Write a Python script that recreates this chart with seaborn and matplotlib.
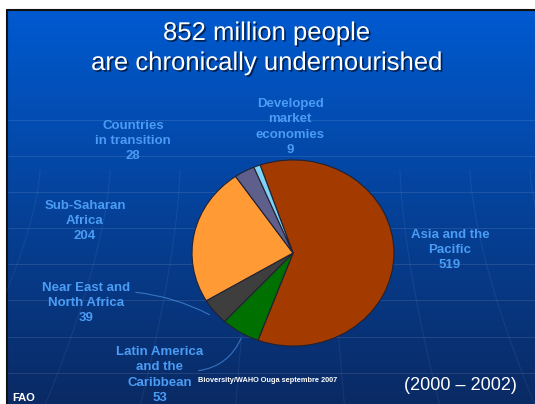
import numpy as np
import seaborn as sns
import matplotlib.pyplot as plt
import matplotlib.patheffects as pe

# data (million people, 2000-2002)
regions = [
    "Asia and the\nPacific",
    "Latin America\nand the\nCaribbean",
    "Near East and\nNorth Africa",
    "Sub-Saharan\nAfrica",
    "Countries\nin transition",
    "Developed\nmarket\neconomies",
]
people = [519, 53, 39, 204, 28, 9]
title_lines = ["852 million people", "are chronically undernourished"]
period = "(2000 \u2013 2002)"

slice_colors = ["#A33A00", "#007000", "#3E3E3E", "#FF9A35", "#5F5F8C", "#7FD3F5"]
# label centres in pixel coordinates
label_pos = [(450, 250), (160, 375), (86, 303), (85, 221), (133, 141), (290, 127)]

W, H = 535, 404
sns.set_theme(style="white")
plt.rcParams["font.family"] = ["Liberation Sans", "DejaVu Sans"]

fig = plt.figure(figsize=(W / 100, H / 100), dpi=100, facecolor="white")

# slide background
bg = fig.add_axes([0, 0, 1, 1])
bg.set_xlim(0, W)
bg.set_ylim(H, 0)
bg.axis("off")
top = np.array([0, 90, 208]) / 255
bottom = np.array([10, 42, 100]) / 255
t = np.linspace(0, 1, 256)[:, None]
grad = (top * (1 - t) + bottom * t)[:, None, :]
bg.imshow(grad, extent=(7, W, H, 10), aspect="auto", zorder=0)
bg.plot([7, W], [10, 10], color="#111111", lw=1.5, zorder=1)
bg.plot([7, 7], [10, H], color="#111111", lw=1.5, zorder=1)
for gy in [120, 156, 192, 228, 264, 300, 337, 373]:
    bg.plot([8, W], [gy, gy], color="white", alpha=0.10, lw=0.8, zorder=1)
yy = np.linspace(170, H, 60)
for x0 in [40, 110, 180, 250, 330, 400, 470, 530]:
    xx = x0 + (x0 - 290) * 0.35 * ((yy - 170) / 230) ** 1.5
    bg.plot(xx, yy, color="white", alpha=0.06, lw=0.8, zorder=1)

# pie
cx, cy, rx, ry = 293, 253, 102, 94
ax = fig.add_axes([(cx - rx) / W, (H - cy - ry) / H, 2 * rx / W, 2 * ry / H])
ax.pie(people, colors=slice_colors, startangle=109, counterclock=False,
       wedgeprops=dict(edgecolor="#222233", linewidth=0.8))
ax.set_aspect("auto")
ax.set_xlim(-1.01, 1.01)
ax.set_ylim(-1.01, 1.01)
ax.axis("off")

# leader lines
bg.annotate("", xy=(212, 316), xytext=(133, 292),
            arrowprops=dict(arrowstyle="-", color="#4A8FE0", lw=0.8, alpha=0.7,
                            connectionstyle="arc3,rad=-0.1"))
bg.annotate("", xy=(242, 336), xytext=(196, 371),
            arrowprops=dict(arrowstyle="-", color="#4A8FE0", lw=0.8, alpha=0.7,
                            connectionstyle="arc3,rad=0.3"))

for name, val, (lx, ly) in zip(regions, people, label_pos):
    bg.text(lx, ly, f"{name}\n{val}", ha="center", va="center", color="#4A9CF5",
            fontsize=9.5, fontweight="bold", linespacing=1.36, zorder=3)

shadow = [pe.SimplePatchShadow(offset=(1.2, -1.2), shadow_rgbFace="#001436", alpha=0.8),
          pe.Normal()]
bg.text(267, 40, title_lines[0], ha="center", va="baseline", color="white",
        fontsize=18.5, path_effects=shadow, zorder=3)
bg.text(267, 70, title_lines[1], ha="center", va="baseline", color="white",
        fontsize=18.5, path_effects=shadow, zorder=3)

bg.text(460, 386, period, ha="center", va="center", color="white", fontsize=13, zorder=3)
bg.text(198, 381, "Bioversity/WAHO Ouga septembre 2007", ha="left", va="center",
        color="white", fontsize=5.3, fontweight="bold", zorder=3)
bg.text(12, 401, "FAO", ha="left", va="baseline", color="white", fontsize=8,
        fontweight="bold", zorder=3)

fig.savefig("out.png", dpi=100, facecolor="white")
